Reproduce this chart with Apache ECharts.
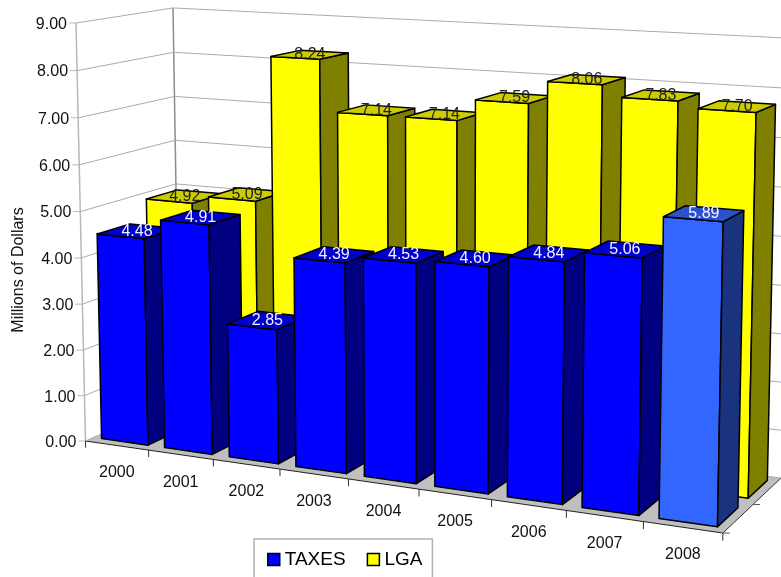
<!DOCTYPE html>
<html>
<head>
<meta charset="utf-8">
<style>html,body{margin:0;padding:0;background:#fff;overflow:hidden}#c{width:781px;height:577px}</style>
<script src="https://cdn.jsdelivr.net/npm/echarts@6/dist/echarts.min.js"></script>
</head>
<body>
<div id="c"></div>
<script>
const categories = ['2000','2001','2002','2003','2004','2005','2006','2007','2008'];
const taxes = [4.48,4.91,2.85,4.39,4.53,4.60,4.84,5.06,5.89];
const lga = [4.92,5.09,8.24,7.14,7.14,7.59,8.06,7.83,7.70];
const yTickLabels = ['0.00','1.00','2.00','3.00','4.00','5.00','6.00','7.00','8.00','9.00'];
const depthTicks = [0, 0.5];
const highlightedTaxYear = '2008';

const FONT = '"Liberation Sans", Arial, sans-serif';
const STROKE = '#000';
const BLUE = {front:'#0000ff', side:'#000080', top:'#0000cc'};
const BLUE_HI = {front:'#3366ff', side:'#1a337f', top:'#2952cc'};
const YELLOW = {front:'#ffff00', side:'#808000', top:'#cccc00'};
const BAR_HALF = 0.37;
const ROW_FRONT = {z0:0.08, z1:0.415};
const ROW_BACK = {z0:0.59, z1:0.93};

// Fixed 3D view: (x = category units, y = value units, z = depth 0..1) to screen
function project(x, y, z) {
  const w = -0.01356*x - 0.00294*y + 0.0715*z + 1;
  return [(61.02*x - 1.279*y + 106.8*z + 85.5)/w, (3.0*x - 46.51*y - 14.1*z + 441)/w];
}
// Turn a datum into view units through the cartesian scales of the grid
function toModel(api, cat, val) {
  const o = api.coord([0, 0]), p = api.coord([cat, val]), s = api.size([1, 1]);
  return [(p[0]-o[0])/s[0] + 0.5, (o[1]-p[1])/s[1]];
}
function poly(points, fill, stroke, lw) {
  return {type:'polygon', shape:{points}, style:{fill, stroke:stroke||STROKE, lineWidth:lw==null?1.5:lw, lineJoin:'round'}};
}
function seg(a, b, color, lw) {
  return {type:'line', shape:{x1:a[0],y1:a[1],x2:b[0],y2:b[1]}, style:{stroke:color, lineWidth:lw, fill:null}};
}
function barItem(row, paletteOf) {
  return function (params, api) {
    const m = toModel(api, api.value(0), api.value(1));
    const x0 = m[0]-BAR_HALF, x1 = m[0]+BAR_HALF, y = m[1], z0 = row.z0, z1 = row.z1;
    const pal = paletteOf(params.dataIndex);
    return {type:'group', children:[
      poly([project(x0,0,z0),project(x1,0,z0),project(x1,y,z0),project(x0,y,z0)], pal.front),
      poly([project(x1,0,z0),project(x1,0,z1),project(x1,y,z1),project(x1,y,z0)], pal.side),
      poly([project(x0,y,z0),project(x1,y,z0),project(x1,y,z1),project(x0,y,z1)], pal.top)
    ]};
  };
}
function labelItem(row, color) {
  return function (params, api) {
    const m = toModel(api, api.value(0), api.value(1));
    const p = project(m[0], m[1], (row.z0+row.z1)/2);
    return {type:'text', x:p[0], y:p[1], style:{text:api.value(1).toFixed(2), fill:color,
      font:'16px '+FONT, align:'center', verticalAlign:'middle'}};
  };
}
const pairs = a => a.map((v,i)=>[i,v]);

function frameItem(params, api) {
  const v = toModel(api, 0, api.value(1))[1];
  const kids = [];
  if (params.dataIndex === 0) {
    kids.push(poly([project(0,0,0),project(9,0,0),project(9,0,1),project(0,0,1)], '#bfbfbf', '#bfbfbf', 0));
    kids.push(seg(project(0,0,0), project(0,9,0), '#b8b8b8', 1.5));
    kids.push(seg(project(0,0,1), project(0,9,1), '#8c8c8c', 1.5));
    kids.push(seg(project(0,0,0), project(9,0,0), '#222', 1));
    kids.push(seg(project(9,0,0), project(9,0,1), '#333', 1));
  }
  const top = v === 9;
  kids.push(seg(project(0,v,0), project(0,v,1), top?'#8c8c8c':'#ababab', top?1.5:1));
  kids.push(seg(project(0,v,1), project(9,v,1), top?'#8c8c8c':'#ababab', top?1.5:1));
  const f = project(0,v,0);
  kids.push(seg([f[0]-7,f[1]], f, '#b8b8b8', 1));
  kids.push({type:'text', x:f[0]-9, y:f[1]+1.5, style:{text:yTickLabels[params.dataIndex], fill:'#111',
    font:'16px '+FONT, align:'right', verticalAlign:'middle'}});
  return {type:'group', children:kids};
}
function catAxisItem(params, api) {
  const i = api.value(0);
  const edge = project(i+1,0,0);
  const mid = project(i+0.5,0,0);
  const kids = [];
  kids.push(seg(edge, project(i+1,-0.15,0), '#333', 1));
  if (i === 0) kids.push(seg(project(0,0,0), project(0,-0.15,0), '#333', 1));
  kids.push({type:'text', x:mid[0], y:mid[1]+27.5, style:{text:categories[i], fill:'#111',
    font:'16px '+FONT, align:'center', verticalAlign:'middle'}});
  return {type:'group', children:kids};
}
function depthTickItem(params, api) {
  const p = project(9,0,depthTicks[params.dataIndex]);
  return seg(p, [p[0]+7,p[1]], '#555', 1);
}

const chart = echarts.init(document.getElementById('c'), null, {renderer:'canvas'});
chart.setOption({
  animation:false,
  backgroundColor:'#fff',
  grid:{left:60, top:20, width:660, height:500, containLabel:false},
  xAxis:{type:'category', data:categories, show:false},
  yAxis:{type:'value', min:0, max:9, interval:1, show:true,
    axisLine:{show:false}, axisTick:{show:false}, axisLabel:{show:false}, splitLine:{show:false},
    name:'Millions of Dollars', nameLocation:'middle', nameGap:33, nameRotate:90,
    nameTextStyle:{fontFamily:FONT, fontSize:16, color:'#111'}},
  legend:{show:true, left:254, top:539, orient:'horizontal', icon:'rect', itemWidth:12, itemHeight:12,
    itemGap:21, padding:[11,10,20,13], borderColor:'#b0b0b0', borderWidth:1.5, backgroundColor:'#fff',
    textStyle:{fontFamily:FONT, fontSize:19, color:'#000'},
    data:[
      {name:'TAXES', itemStyle:{color:BLUE.front, borderColor:'#000', borderWidth:1.5}},
      {name:'LGA', itemStyle:{color:YELLOW.front, borderColor:'#000', borderWidth:1.5}}
    ]},
  series:[
    {type:'custom', name:'frame', z:1, silent:true, data:yTickLabels.map(t=>[0,Number(t)]), renderItem:frameItem},
    {type:'custom', name:'catAxis', z:1, silent:true, data:categories.map((c,i)=>[i,0]), renderItem:catAxisItem},
    {type:'custom', name:'depthTicks', z:1, silent:true, data:depthTicks.map(d=>[0,0]), renderItem:depthTickItem},
    {type:'custom', name:'LGA', z:2, itemStyle:{color:YELLOW.front}, data:pairs(lga), renderItem:barItem(ROW_BACK, ()=>YELLOW)},
    {type:'custom', name:'TAXES', z:3, itemStyle:{color:BLUE.front}, data:pairs(taxes),
      renderItem:barItem(ROW_FRONT, i=>categories[i]===highlightedTaxYear?BLUE_HI:BLUE)},
    {type:'custom', name:'LGA labels', z:4, silent:true, data:pairs(lga), renderItem:labelItem(ROW_BACK,'#222')},
    {type:'custom', name:'TAXES labels', z:5, silent:true, data:pairs(taxes), renderItem:labelItem(ROW_FRONT,'#f2f2ff')}
  ]
});
</script>
</body>
</html>
